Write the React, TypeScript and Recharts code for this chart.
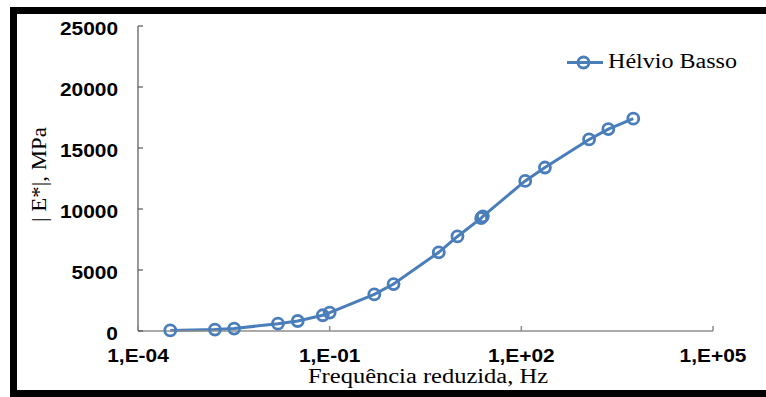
import React from "react";
import { LineChart, Line, XAxis, YAxis, Label } from "recharts";

// Reduced frequency (Hz) and dynamic modulus |E*| (MPa)
const frequencies = [3.2e-4, 1.6e-3, 3.2e-3, 0.0155, 0.0316, 0.078, 0.1, 0.5, 1.0, 5.1, 10, 23.5, 25, 115, 234, 1150, 2300, 5650];
const modulus = [50, 115, 200, 600, 820, 1290, 1510, 3000, 3850, 6450, 7750, 9250, 9400, 12300, 13400, 15700, 16550, 17400];

const xTicks = [1e-4, 1e-1, 1e2, 1e5];
const xTickLabels = ["1,E-04", "1,E-01", "1,E+02", "1,E+05"];
const yTicks = [0, 5000, 10000, 15000, 20000, 25000];

const seriesName = "Hélvio Basso";
const xTitle = "Frequência reduzida, Hz";
const yTitle = "| E*|, MPa";

const data = frequencies.map((f, i) => ({ f, e: modulus[i] }));

const BLUE = "#4a7ebb";
const SANS = "'Liberation Sans', Arial, sans-serif";
const SERIF = "'Liberation Serif', 'Times New Roman', serif";
const STRETCH = 1.1;

const XTick = (props: any) => {
  const { x, y, payload } = props;
  const idx = xTicks.indexOf(payload.value);
  return (
    <g>
      <line x1={x} y1={y} x2={x} y2={y - 5} stroke="#8c8c8c" strokeWidth={1.5} />
      <text
        transform={`translate(${x},${y + 31}) scale(${STRETCH},1)`}
        textAnchor="middle"
        fontFamily={SANS}
        fontWeight="bold"
        fontSize={19}
        fill="#000"
      >
        {idx >= 0 ? xTickLabels[idx] : String(payload.value)}
      </text>
    </g>
  );
};

const YTick = (props: any) => {
  const { x, y, payload } = props;
  return (
    <g>
      <line x1={x} y1={y} x2={x + 5} y2={y} stroke="#555" strokeWidth={1.2} />
      <text
        transform={`translate(${x - 20},${y + 8.5}) scale(${STRETCH},1)`}
        textAnchor="end"
        fontFamily={SANS}
        fontWeight="bold"
        fontSize={19}
        fill="#000"
      >
        {payload.value}
      </text>
    </g>
  );
};

const XTitle = (props: any) => {
  const vb = props.viewBox;
  return (
    <text
      x={vb.x + vb.width / 2 + 2.5}
      y={vb.y + 52}
      textAnchor="middle"
      fontFamily={SERIF}
      fontSize={20}
      textLength={240}
      lengthAdjust="spacingAndGlyphs"
      fill="#000"
    >
      {xTitle}
    </text>
  );
};

const YTitle = (props: any) => {
  const vb = props.viewBox;
  const cx = vb.x - 32;
  const cy = vb.y + vb.height / 2 - 4;
  return (
    <text
      transform={`translate(${cx},${cy}) rotate(-90)`}
      textAnchor="middle"
      fontFamily={SERIF}
      fontSize={22}
      textLength={95}
      lengthAdjust="spacingAndGlyphs"
      fill="#000"
    >
      {yTitle}
    </text>
  );
};

const SeriesLegend = () => (
  <svg
    width={200}
    height={30}
    style={{ position: "absolute", left: 560, top: 48, display: "block" }}
  >
    <line x1={7} y1={14.5} x2={43} y2={14.5} stroke={BLUE} strokeWidth={3} />
    <circle cx={23.5} cy={14.5} r={5.5} fill="none" stroke={BLUE} strokeWidth={2.8} />
    <text
      x={48}
      y={20}
      fontFamily={SERIF}
      fontSize={20}
      textLength={129}
      lengthAdjust="spacingAndGlyphs"
      fill="#000"
    >
      {seriesName}
    </text>
  </svg>
);

export default function App() {
  return (
    <div
      style={{
        position: "absolute",
        left: 0,
        top: 0,
        width: 766,
        height: 397,
        overflow: "hidden",
        background: "#fff",
      }}
    >
      <div
        style={{
          position: "absolute",
          left: 10,
          top: 7,
          width: 800,
          height: 390,
          border: "7px solid #000",
          boxSizing: "border-box",
        }}
      />
      <div style={{ position: "absolute", left: 0, top: 0 }}>
        <LineChart
          width={766}
          height={397}
          data={data}
          margin={{ top: 26, right: 53, bottom: 36, left: 78 }}
        >
          <XAxis
            dataKey="f"
            type="number"
            scale="log"
            domain={[1e-4, 1e5]}
            ticks={xTicks}
            allowDataOverflow
            height={30}
            axisLine={{ stroke: "#8c8c8c", strokeWidth: 1.5 }}
            tickLine={false}
            tickSize={0}
            tickMargin={0}
            tick={<XTick />}
            interval={0}
          >
            <Label content={<XTitle />} />
          </XAxis>
          <YAxis
            type="number"
            domain={[0, 25000]}
            ticks={yTicks}
            width={60}
            axisLine={{ stroke: "#555", strokeWidth: 1.2 }}
            tickLine={false}
            tickSize={0}
            tickMargin={0}
            tick={<YTick />}
            interval={0}
          >
            <Label content={<YTitle />} />
          </YAxis>
          <Line
            type="linear"
            dataKey="e"
            name={seriesName}
            stroke={BLUE}
            strokeWidth={3}
            dot={{ r: 5.5, stroke: BLUE, strokeWidth: 2.8, fill: "none" }}
            activeDot={false}
            isAnimationActive={false}
          />
        </LineChart>
      </div>
      <SeriesLegend />
    </div>
  );
}
